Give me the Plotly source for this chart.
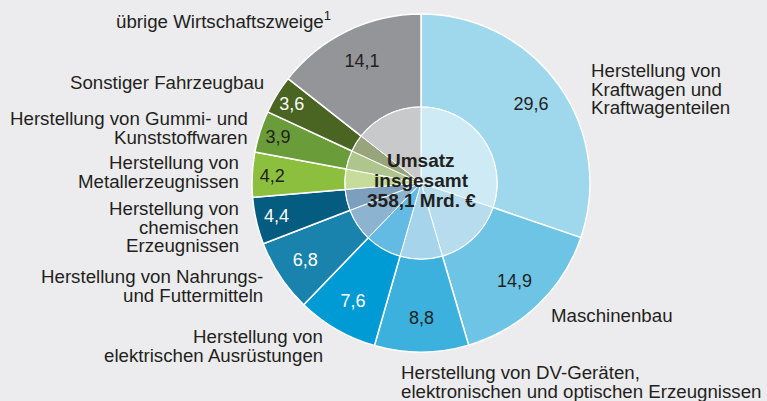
import plotly.graph_objects as go

# ---- data ----
categories = [
    "Herstellung von Kraftwagen und Kraftwagenteilen",
    "Maschinenbau",
    "Herstellung von DV-Geräten, elektronischen und optischen Erzeugnissen",
    "Herstellung von elektrischen Ausrüstungen",
    "Herstellung von Nahrungs- und Futtermitteln",
    "Herstellung von chemischen Erzeugnissen",
    "Herstellung von Metallerzeugnissen",
    "Herstellung von Gummi- und Kunststoffwaren",
    "Sonstiger Fahrzeugbau",
    "übrige Wirtschaftszweige",
]
shares = [29.6, 14.9, 8.8, 7.6, 6.8, 4.4, 4.2, 3.9, 3.6, 14.1]
value_labels = ["29,6", "14,9", "8,8", "7,6", "6,8", "4,4", "4,2", "3,9", "3,6", "14,1"]
label_texts = [
    ["Herstellung von", "Kraftwagen und", "Kraftwagenteilen"],
    ["Maschinenbau"],
    ["Herstellung von DV-Geräten,", "elektronischen und optischen Erzeugnissen"],
    ["Herstellung von", "elektrischen Ausrüstungen"],
    ["Herstellung von Nahrungs-", "und Futtermitteln"],
    ["Herstellung von", "chemischen", "Erzeugnissen"],
    ["Herstellung von", "Metallerzeugnissen"],
    ["Herstellung von Gummi- und", "Kunststoffwaren"],
    ["Sonstiger Fahrzeugbau"],
    ["übrige Wirtschaftszweige<sup>1</sup>"],
]
center_lines = ["Umsatz", "insgesamt", "358,1 Mrd. €"]

# ---- styles ----
outer_colors = ["#9fd8ed", "#6ec4e5", "#3db1de", "#009ad5", "#1a83ad",
                "#045c81", "#8cbf3d", "#6a9c3a", "#4a6422", "#939598"]
inner_colors = ["#cdeaf5", "#b7dcee", "#a6d4eb", "#63bbe3", "#8cb3cf",
                "#7c9fbd", "#c5dc9a", "#aec58d", "#98a57c", "#c8c9cb"]
text_colors = ["#231f20", "#231f20", "#231f20", "white", "white",
               "white", "#231f20", "#231f20", "white", "#231f20"]
# label anchor (px x, px y of block centre, anchor side)
label_pos = [
    (589, 89, "left"), (549, 315, "left"), (399, 382, "left"),
    (325, 346, "right"), (265, 286, "right"), (241, 227, "right"),
    (241, 172, "right"), (250, 128, "right"), (266, 82, "right"),
    (333, 20, "right"),
]

W, H = 767, 401
cx, cy, R, r_in = 421, 183, 169, 76
FONT = "Liberation Sans, Arial, sans-serif"
BG = "#ececee"

def dom(rad):
    return dict(x=[(cx - rad) / W, (cx + rad) / W],
                y=[(H - cy - rad) / H, (H - cy + rad) / H])

fig = go.Figure()
# outer ring
fig.add_trace(go.Pie(
    labels=categories, values=shares, textinfo="none",
    marker=dict(colors=outer_colors, line=dict(color="white", width=1.5)),
    hole=r_in / R, sort=False, direction="clockwise", rotation=0,
    domain=dom(R), hoverinfo="label+value", showlegend=False,
))
# lighter inner disc
fig.add_trace(go.Pie(
    labels=categories, values=shares, textinfo="none",
    marker=dict(colors=inner_colors, line=dict(color="white", width=1)),
    sort=False, direction="clockwise", rotation=0,
    domain=dom(r_in), hoverinfo="skip", showlegend=False,
))
# value labels (transparent ring, positions text further out)
fig.add_trace(go.Pie(
    labels=categories, values=shares, text=value_labels,
    textinfo="text", textposition="inside", insidetextorientation="horizontal",
    textfont=dict(family=FONT, size=18, color=text_colors),
    marker=dict(colors=["rgba(0,0,0,0)"] * len(shares),
                line=dict(color="rgba(0,0,0,0)", width=0)),
    hole=0.6, sort=False, direction="clockwise", rotation=0,
    domain=dom(R), hoverinfo="skip", showlegend=False,
))

annotations = []
LS = 18.8
for lines, (px, py, side) in zip(label_texts, label_pos):
    n = len(lines)
    for i, line in enumerate(lines):
        yy = py + (i - (n - 1) / 2) * LS
        annotations.append(dict(
            x=px / W, y=1 - yy / H, xref="paper", yref="paper",
            xanchor=side, yanchor="middle", align=side, showarrow=False,
            text=line, font=dict(family=FONT, size=18.7, color="#231f20")))
for i, line in enumerate(center_lines):
    yy = cy - 3 + (i - 1) * 20
    annotations.append(dict(
        x=cx / W, y=1 - yy / H, xref="paper", yref="paper",
        xanchor="center", yanchor="middle", showarrow=False,
        text="<b>" + line + "</b>",
        font=dict(family=FONT, size=19, color="#231f20")))

fig.update_layout(
    width=W, height=H, margin=dict(l=0, r=0, t=0, b=0),
    paper_bgcolor=BG, plot_bgcolor=BG, annotations=annotations,
)
fig.write_html("out.html", config={"displayModeBar": False},
               post_script="document.body.style.margin='0';")
